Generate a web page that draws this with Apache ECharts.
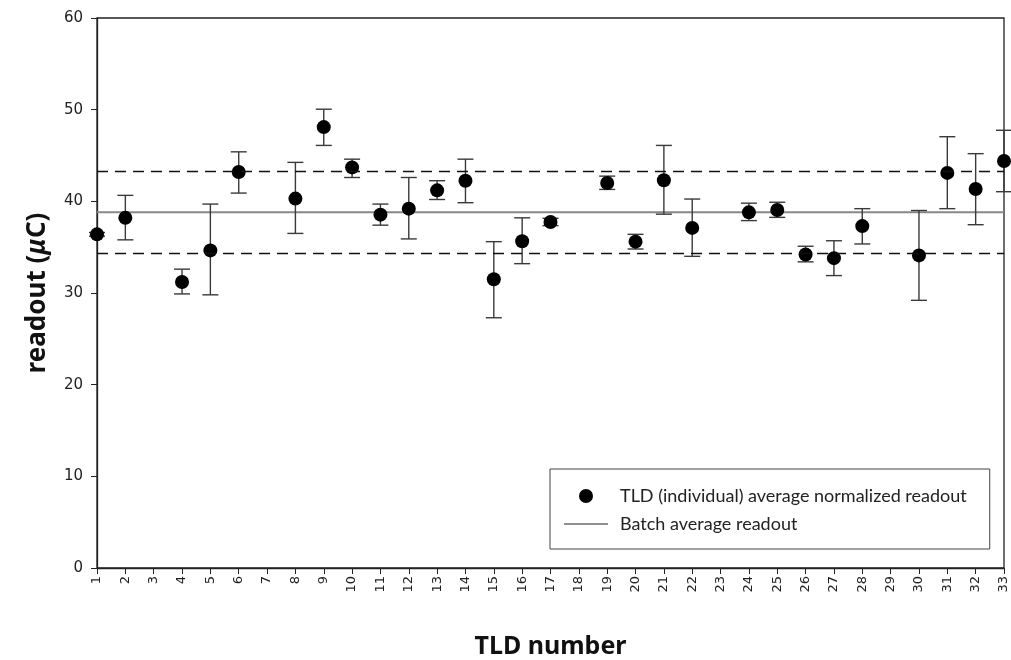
<!DOCTYPE html>
<html>
<head>
<meta charset="utf-8">
<script src="https://cdn.jsdelivr.net/npm/echarts@6/dist/echarts.min.js"></script>
<style>html,body{margin:0;padding:0;background:#fff}#c{width:1011px;height:660px}</style>
</head>
<body>
<div id="c"></div>
<script>
const categories = Array.from({length:33}, (_, i) => String(i + 1));
const tldIds = [1,2,4,5,6,8,9,10,11,12,13,14,15,16,17,19,20,21,22,24,25,26,27,28,30,31,32,33];
const meanReadout = [36.4,38.2,31.2,34.65,43.2,40.3,48.1,43.7,38.55,39.2,41.2,42.25,31.5,35.65,37.75,42.0,35.6,42.3,37.1,38.8,39.05,34.2,33.8,37.3,34.1,43.1,41.35,44.4];
const lowReadout  = [36.2,35.8,29.9,29.8,40.9,36.5,46.1,42.6,37.4,35.9,40.2,39.85,27.3,33.2,37.35,41.3,34.8,38.6,34.0,37.9,38.25,33.4,31.9,35.35,29.2,39.2,37.45,41.05];
const highReadout = [36.6,40.65,32.6,39.7,45.4,44.25,50.05,44.6,39.7,42.6,42.25,44.6,35.6,38.2,38.15,42.75,36.4,46.1,40.25,39.8,39.9,35.1,35.7,39.2,39.0,47.05,45.2,47.75];
const batchAverage = 38.8;
const upperLimit = 43.3;
const lowerLimit = 34.3;
const yTicks = [0,10,20,30,40,50,60];

const chart = echarts.init(document.getElementById('c'), null, {renderer:'canvas'});
const scatterData = tldIds.map((id, i) => [id - 1, meanReadout[i]]);
const errData = tldIds.map((id, i) => [id - 1, lowReadout[i], highReadout[i]]);
const lineData = categories.map((c) => batchAverage);

chart.setOption({
  animation: false,
  backgroundColor: '#fff',
  grid: {left: 97, right: 7, top: 18, bottom: 92, show: true, borderColor: '#222', borderWidth: 1.3,
    backgroundColor: 'transparent', containLabel: false, outerBoundsMode: 'none'},
  legend: {
    left: 550, top: 469,
    orient: 'vertical',
    padding: [18, 23, 16, 14],
    itemGap: 10,
    itemWidth: 44, itemHeight: 14,
    borderColor: '#444', borderWidth: 1,
    textStyle: {fontFamily: 'Lato', fontSize: 18, color: '#222', padding: [0, 0, 0, 7]},
    data: [
      {name: 'TLD (individual) average normalized readout', icon: 'circle', itemStyle: {color: '#000', opacity: 1}},
      {name: 'Batch average readout', icon: 'path://M0,6 L44,6 L44,7 L0,7 Z',
        itemStyle: {color: '#222', borderWidth: 0}, lineStyle: {color: '#222'}}
    ]
  },
  xAxis: {
    type: 'category',
    data: categories,
    boundaryGap: false,
    name: 'TLD number',
    nameLocation: 'middle',
    nameGap: 66,
    nameTextStyle: {fontFamily: 'Noto Sans', fontWeight: 'bold', fontSize: 25, color: '#111'},
    axisLine: {lineStyle: {color: '#222', width: 1.3}},
    axisTick: {show: true, interval: 0, alignWithLabel: true, length: 6, lineStyle: {color: '#222'}},
    axisLabel: {interval: 0, rotate: 90, fontFamily: 'DejaVu Sans', fontSize: 13, color: '#222', margin: 8},
    splitLine: {show: false}
  },
  yAxis: {
    type: 'value',
    min: 0, max: 60, interval: 10,
    name: '{b|readout (}{i|\u03BC}{b|C)}',
    nameLocation: 'middle',
    nameGap: 46,
    nameRotate: 90,
    nameTextStyle: {
      rich: {
        b: {fontFamily: 'Noto Sans', fontWeight: 'bold', fontSize: 26, color: '#111'},
        i: {fontFamily: 'Noto Sans', fontWeight: 'bold', fontStyle: 'italic', fontSize: 26, color: '#111'}
      }
    },
    axisLine: {show: true, lineStyle: {color: '#222', width: 1.3}},
    axisTick: {show: true, length: 6, lineStyle: {color: '#222'}},
    axisLabel: {fontFamily: 'DejaVu Sans', fontSize: 15, color: '#222', margin: 14,
      formatter: (v) => yTicks.includes(v) ? String(v) : ''},
    splitLine: {show: false}
  },
  series: [
    {
      name: 'Batch average readout',
      type: 'line',
      data: lineData,
      symbol: 'none',
      lineStyle: {color: '#888', width: 2},
      itemStyle: {color: '#222'},
      z: 1,
      markLine: {
        silent: true,
        symbol: 'none',
        label: {show: false},
        lineStyle: {color: '#111', type: [11, 7], width: 1.3},
        data: [{yAxis: upperLimit}, {yAxis: lowerLimit}]
      }
    },
    {
      name: 'errorbars',
      type: 'custom',
      z: 2,
      clip: false,
      data: errData,
      renderItem: function (params, api) {
        const x = api.value(0);
        const lo = api.coord([x, api.value(1)]);
        const hi = api.coord([x, api.value(2)]);
        const hw = 8;
        const st = {stroke: '#3a3a3a', lineWidth: 1.4, fill: null};
        return {
          type: 'group',
          children: [
            {type: 'line', shape: {x1: lo[0], y1: lo[1], x2: hi[0], y2: hi[1]}, style: st},
            {type: 'line', shape: {x1: lo[0] - hw, y1: lo[1], x2: lo[0] + hw, y2: lo[1]}, style: st},
            {type: 'line', shape: {x1: hi[0] - hw, y1: hi[1], x2: hi[0] + hw, y2: hi[1]}, style: st}
          ]
        };
      }
    },
    {
      name: 'TLD (individual) average normalized readout',
      type: 'scatter',
      data: scatterData,
      symbol: 'circle',
      symbolSize: 14,
      clip: false,
      itemStyle: {color: '#000', opacity: 1},
      z: 3
    }
  ]
});
</script>
</body>
</html>
